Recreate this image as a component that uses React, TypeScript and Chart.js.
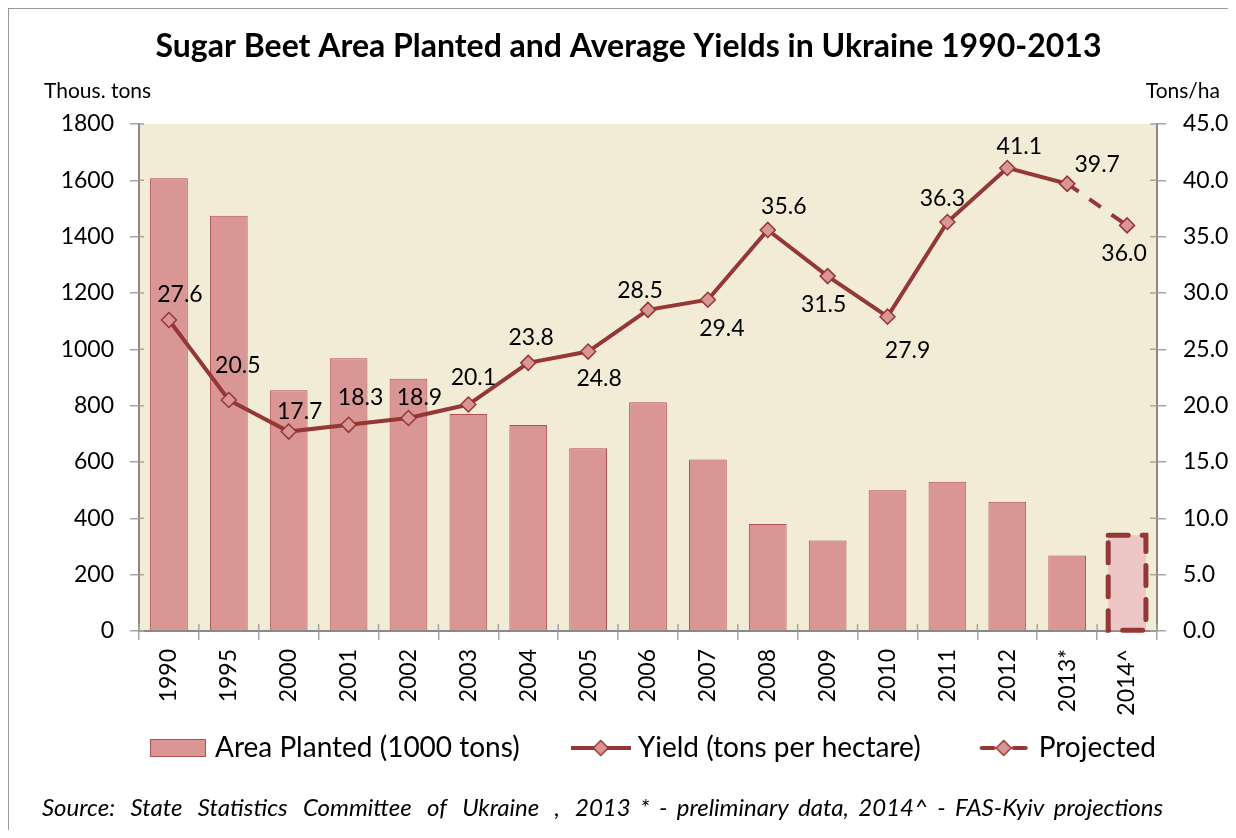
import React, { useEffect, useRef } from 'react';
import { Chart, registerables } from 'chart.js';

Chart.register(...registerables);

// ---------- data ----------
const CATEGORIES = ['1990', '1995', '2000', '2001', '2002', '2003', '2004', '2005', '2006', '2007', '2008', '2009', '2010', '2011', '2012', '2013*', '2014^'];
const AREA_PLANTED = [1607, 1474, 855, 968, 896, 770, 731, 649, 812, 609, 380, 321, 500, 530, 459, 268, 340];
const YIELD = [27.6, 20.5, 17.7, 18.3, 18.9, 20.1, 23.8, 24.8, 28.5, 29.4, 35.6, 31.5, 27.9, 36.3, 41.1, 39.7, null];
const PROJECTED = [null, null, null, null, null, null, null, null, null, null, null, null, null, null, null, 39.7, 36.0];
const LEFT_MAX = 1800;
const LEFT_STEP = 200;
const RIGHT_MAX = 45;
const RIGHT_STEP = 5;

const TITLE = 'Sugar Beet Area Planted and Average Yields in Ukraine 1990-2013';
const LEFT_AXIS_TITLE = 'Thous. tons';
const RIGHT_AXIS_TITLE = 'Tons/ha';
const LEGEND_LABELS = ['Area Planted (1000 tons)', 'Yield (tons per hectare)', 'Projected'];
const SOURCE_PARTS = ['Source: State Statistics Committee of Ukraine ,', '2013 * - preliminary data,  2014^ - FAS-Kyiv  projections'];

// label offsets (dx, dy) relative to each marker
const LABEL_OFFSETS = [
  [11, -26], [9, -35], [11, -21], [12, -28], [11, -21], [5, -28], [3, -26], [11, 26],
  [-8, -20], [14, 28], [16, -24], [-4, 27], [20, 33], [-5, -24], [12, -22], [30, -20], [-3, 27],
];

// ---------- style ----------
const FONT = "Lato, 'Open Sans', sans-serif";
const PLOT_BG = '#F2ECD6';
const BAR_FILL = '#D99694';
const BAR_BORDER = '#B0504E';
const PROJ_BAR_FILL = '#EDC7C5';
const LINE_COLOR = '#953735';
const AXIS_COLOR = '#898989';
const TICK_COLOR = '#A6A6A6';
const PROJ_INDEX = CATEGORIES.length - 1;
const LEGEND_SHIFT_X = 37;
const LEGEND_SHIFT_Y = -50;
const TITLE_SHIFT_X = 10;

function makeIcon(kind: 'bar' | 'line' | 'dash'): HTMLCanvasElement {
  const c = document.createElement('canvas');
  const w = 60, h = 20;
  c.width = w; c.height = h;
  const ctx = c.getContext('2d')!;
  const cy = h / 2;
  const diamond = (x: number) => {
    const r = 7.5;
    ctx.beginPath();
    ctx.moveTo(x, cy - r); ctx.lineTo(x + r, cy); ctx.lineTo(x, cy + r); ctx.lineTo(x - r, cy); ctx.closePath();
    ctx.fillStyle = BAR_FILL; ctx.fill();
    ctx.lineWidth = 1.5; ctx.strokeStyle = LINE_COLOR; ctx.stroke();
  };
  if (kind === 'bar') {
    ctx.fillStyle = BAR_FILL;
    ctx.fillRect(2.5, 1.5, 55, 17);
    ctx.strokeStyle = BAR_BORDER; ctx.lineWidth = 1;
    ctx.strokeRect(2.5, 1.5, 55, 17);
  } else if (kind === 'line') {
    ctx.strokeStyle = LINE_COLOR; ctx.lineWidth = 4;
    ctx.beginPath(); ctx.moveTo(0, cy); ctx.lineTo(w, cy); ctx.stroke();
    diamond(w / 2);
  } else {
    ctx.strokeStyle = LINE_COLOR; ctx.lineWidth = 4; ctx.lineCap = 'round';
    ctx.beginPath(); ctx.moveTo(10, cy); ctx.lineTo(22, cy); ctx.stroke();
    ctx.beginPath(); ctx.moveTo(42, cy); ctx.lineTo(54, cy); ctx.stroke();
    diamond(32);
  }
  return c;
}

const plotBgPlugin = {
  id: 'plotBg',
  beforeDraw(chart: any) {
    const { ctx, chartArea } = chart;
    ctx.save();
    ctx.fillStyle = PLOT_BG;
    ctx.fillRect(chartArea.left, chartArea.top, chartArea.right - chartArea.left, chartArea.bottom - chartArea.top);
    ctx.restore();
  },
};

const innerTicksPlugin = {
  id: 'innerTicks',
  afterDraw(chart: any) {
    const { ctx, chartArea, scales } = chart;
    ctx.save();
    ctx.strokeStyle = TICK_COLOR;
    ctx.lineWidth = 1.5;
    ctx.beginPath();
    for (let v = 0; v <= LEFT_MAX; v += LEFT_STEP) {
      const y = scales.y.getPixelForValue(v);
      ctx.moveTo(chartArea.left, y); ctx.lineTo(chartArea.left + 5, y);
    }
    for (let v = 0; v <= RIGHT_MAX; v += RIGHT_STEP) {
      const y = scales.y1.getPixelForValue(v);
      ctx.moveTo(chartArea.right - 7, y); ctx.lineTo(chartArea.right, y);
    }
    for (let i = 0; i <= CATEGORIES.length; i++) {
      const x = scales.x.getPixelForValue(i - 0.5);
      ctx.moveTo(x, chartArea.bottom - 7); ctx.lineTo(x, chartArea.bottom);
    }
    ctx.stroke();
    ctx.restore();
  },
};

const projectedBarPlugin = {
  id: 'projectedBar',
  afterDatasetDraw(chart: any, args: any) {
    if (args.index !== 0) return;
    const el = chart.getDatasetMeta(0).data[PROJ_INDEX];
    if (!el) return;
    const { x, y, base, width } = el.getProps(['x', 'y', 'base', 'width'], true);
    const ctx = chart.ctx;
    ctx.save();
    ctx.strokeStyle = LINE_COLOR;
    ctx.lineWidth = 5;
    ctx.lineCap = 'round';
    ctx.setLineDash([20, 14]);
    ctx.strokeRect(x - width / 2, y, width, base - y);
    ctx.restore();
  },
};

const labelsPlugin = {
  id: 'yieldLabels',
  afterDatasetsDraw(chart: any) {
    const ctx = chart.ctx;
    const yMeta = chart.getDatasetMeta(1);
    const pMeta = chart.getDatasetMeta(2);
    ctx.save();
    ctx.font = `23px ${FONT}`;
    ctx.fillStyle = '#000';
    ctx.textAlign = 'center';
    ctx.textBaseline = 'middle';
    CATEGORIES.forEach((_, i) => {
      let v: number | null = YIELD[i];
      let el = yMeta.data[i];
      if (v == null) { v = PROJECTED[i]; el = pMeta.data[i]; }
      if (v == null || !el) return;
      const [dx, dy] = LABEL_OFFSETS[i];
      ctx.fillText(v.toFixed(1), el.x + dx, el.y + dy + 1);
    });
    ctx.restore();
  },
};

function drawJustified(ctx: CanvasRenderingContext2D, text: string, x0: number, x1: number, y: number) {
  const words = text.split(/\s+/);
  const widths = words.map((w) => ctx.measureText(w).width);
  const total = widths.reduce((a, b) => a + b, 0);
  const minGap = ctx.measureText(' ').width;
  const gap = Math.max(minGap, (x1 - x0 - total) / Math.max(1, words.length - 1));
  let x = x0;
  words.forEach((w, i) => { ctx.fillText(w, x, y); x += widths[i] + gap; });
}

const textsPlugin = {
  id: 'extraTexts',
  afterLayout(chart: any) {
    const lg = chart.legend;
    if (lg) {
      lg.left += LEGEND_SHIFT_X; lg.right += LEGEND_SHIFT_X;
      lg.top += LEGEND_SHIFT_Y; lg.bottom += LEGEND_SHIFT_Y;
    }
    const tb = chart.titleBlock;
    if (tb) { tb.left += TITLE_SHIFT_X; tb.right += TITLE_SHIFT_X; }
  },
  afterDraw(chart: any) {
    const { ctx, chartArea } = chart;
    ctx.save();
    ctx.fillStyle = '#000';
    ctx.textBaseline = 'middle';
    ctx.font = `21px ${FONT}`;
    ctx.textAlign = 'left';
    ctx.fillText(LEFT_AXIS_TITLE, chartArea.left - 95, chartArea.top - 33);
    ctx.textAlign = 'right';
    ctx.fillText(RIGHT_AXIS_TITLE, chartArea.right + 63, chartArea.top - 33);
    ctx.textAlign = 'left';
    ctx.font = `italic 24px ${FONT}`;
    const sy = chart.height - 22;
    drawJustified(ctx, SOURCE_PARTS[0], chartArea.left - 97, chartArea.left + 421, sy);
    drawJustified(ctx, SOURCE_PARTS[1], chartArea.left + 436, chartArea.right + 6, sy);
    ctx.restore();
  },
};

export default function App() {
  const ref = useRef<HTMLCanvasElement | null>(null);

  useEffect(() => {
    if (!ref.current) return;
    const icons = [makeIcon('bar'), makeIcon('line'), makeIcon('dash')];
    const axisFont = { family: FONT, size: 23 };
    const chart = new Chart(ref.current, {
      type: 'bar',
      data: {
        labels: CATEGORIES,
        datasets: [
          {
            type: 'bar',
            label: LEGEND_LABELS[0],
            data: AREA_PLANTED,
            yAxisID: 'y',
            order: 2,
            backgroundColor: CATEGORIES.map((_, i) => (i === PROJ_INDEX ? PROJ_BAR_FILL : BAR_FILL)),
            borderColor: BAR_BORDER,
            borderWidth: CATEGORIES.map((_, i) => (i === PROJ_INDEX ? 0 : 1)),
            barPercentage: 0.63,
            categoryPercentage: 1,
          },
          {
            type: 'line',
            label: LEGEND_LABELS[1],
            data: YIELD,
            yAxisID: 'y1',
            order: 0,
            borderColor: LINE_COLOR,
            borderWidth: 4,
            pointStyle: 'rectRot',
            pointRadius: 7.5,
            pointBackgroundColor: BAR_FILL,
            pointBorderColor: LINE_COLOR,
            pointBorderWidth: 1.5,
            spanGaps: false,
          },
          {
            type: 'line',
            label: LEGEND_LABELS[2],
            data: PROJECTED,
            yAxisID: 'y1',
            order: 1,
            borderColor: LINE_COLOR,
            borderWidth: 4,
            borderDash: [14, 13],
            pointStyle: 'rectRot',
            pointRadius: 7.5,
            pointBackgroundColor: BAR_FILL,
            pointBorderColor: LINE_COLOR,
            pointBorderWidth: 1.5,
          },
        ],
      } as any,
      options: {
        responsive: true,
        maintainAspectRatio: false,
        animation: false,
        events: [],
        layout: { padding: { top: 0, left: 0, right: 0, bottom: 8 } },
        plugins: {
          title: {
            display: true,
            text: TITLE,
            color: '#000',
            font: { family: FONT, size: 32, weight: 'bold', lineHeight: 1.2 },
            padding: { top: 18.8, bottom: 57.8 },
          },
          legend: {
            position: 'bottom',
            labels: {
              usePointStyle: true,
              pointStyleWidth: 46,
              padding: 58,
              color: '#000',
              font: { family: FONT, size: 28 },
              generateLabels: () =>
                LEGEND_LABELS.map((text, i) => ({
                  text,
                  pointStyle: icons[i],
                  fillStyle: BAR_FILL,
                  strokeStyle: LINE_COLOR,
                  lineWidth: 0,
                  fontColor: '#000',
                  hidden: false,
                  datasetIndex: i,
                })),
            },
          },
          tooltip: { enabled: false },
        },
        scales: {
          x: {
            type: 'category',
            offset: true,
            grid: { offset: true, drawOnChartArea: false, drawTicks: true, tickLength: 9, color: TICK_COLOR, lineWidth: 1.5 },
            border: { color: AXIS_COLOR, width: 2 },
            ticks: { font: axisFont, color: '#000', minRotation: 90, maxRotation: 90, autoSkip: false, padding: 9 },
            afterFit: (s: any) => { s.height = 95; },
          },
          y: {
            position: 'left',
            min: 0,
            max: LEFT_MAX,
            grid: { drawOnChartArea: false, drawTicks: true, tickLength: 9, color: TICK_COLOR, lineWidth: 1.5 },
            border: { color: AXIS_COLOR, width: 2 },
            ticks: { stepSize: LEFT_STEP, font: axisFont, color: '#000', padding: 16, callback: (v: any) => String(v) },
            afterFit: (s: any) => { s.width = 130; },
          },
          y1: {
            position: 'right',
            min: 0,
            max: RIGHT_MAX,
            grid: { drawOnChartArea: false, drawTicks: true, tickLength: 9, color: TICK_COLOR, lineWidth: 1.5 },
            border: { color: AXIS_COLOR, width: 2 },
            ticks: { stepSize: RIGHT_STEP, font: axisFont, color: '#000', padding: 17, callback: (v: any) => Number(v).toFixed(1) },
            afterFit: (s: any) => { s.width = 71; },
          },
        },
      } as any,
      plugins: [plotBgPlugin, projectedBarPlugin, labelsPlugin, innerTicksPlugin, textsPlugin],
    });
    return () => chart.destroy();
  }, []);

  return (
    <div
      style={{
        width: 1220,
        height: 822,
        boxSizing: 'border-box',
        borderTop: '1px solid #999',
        borderLeft: '1px solid #999',
        position: 'relative',
        background: '#fff',
      }}
    >
      <canvas ref={ref} />
    </div>
  );
}
